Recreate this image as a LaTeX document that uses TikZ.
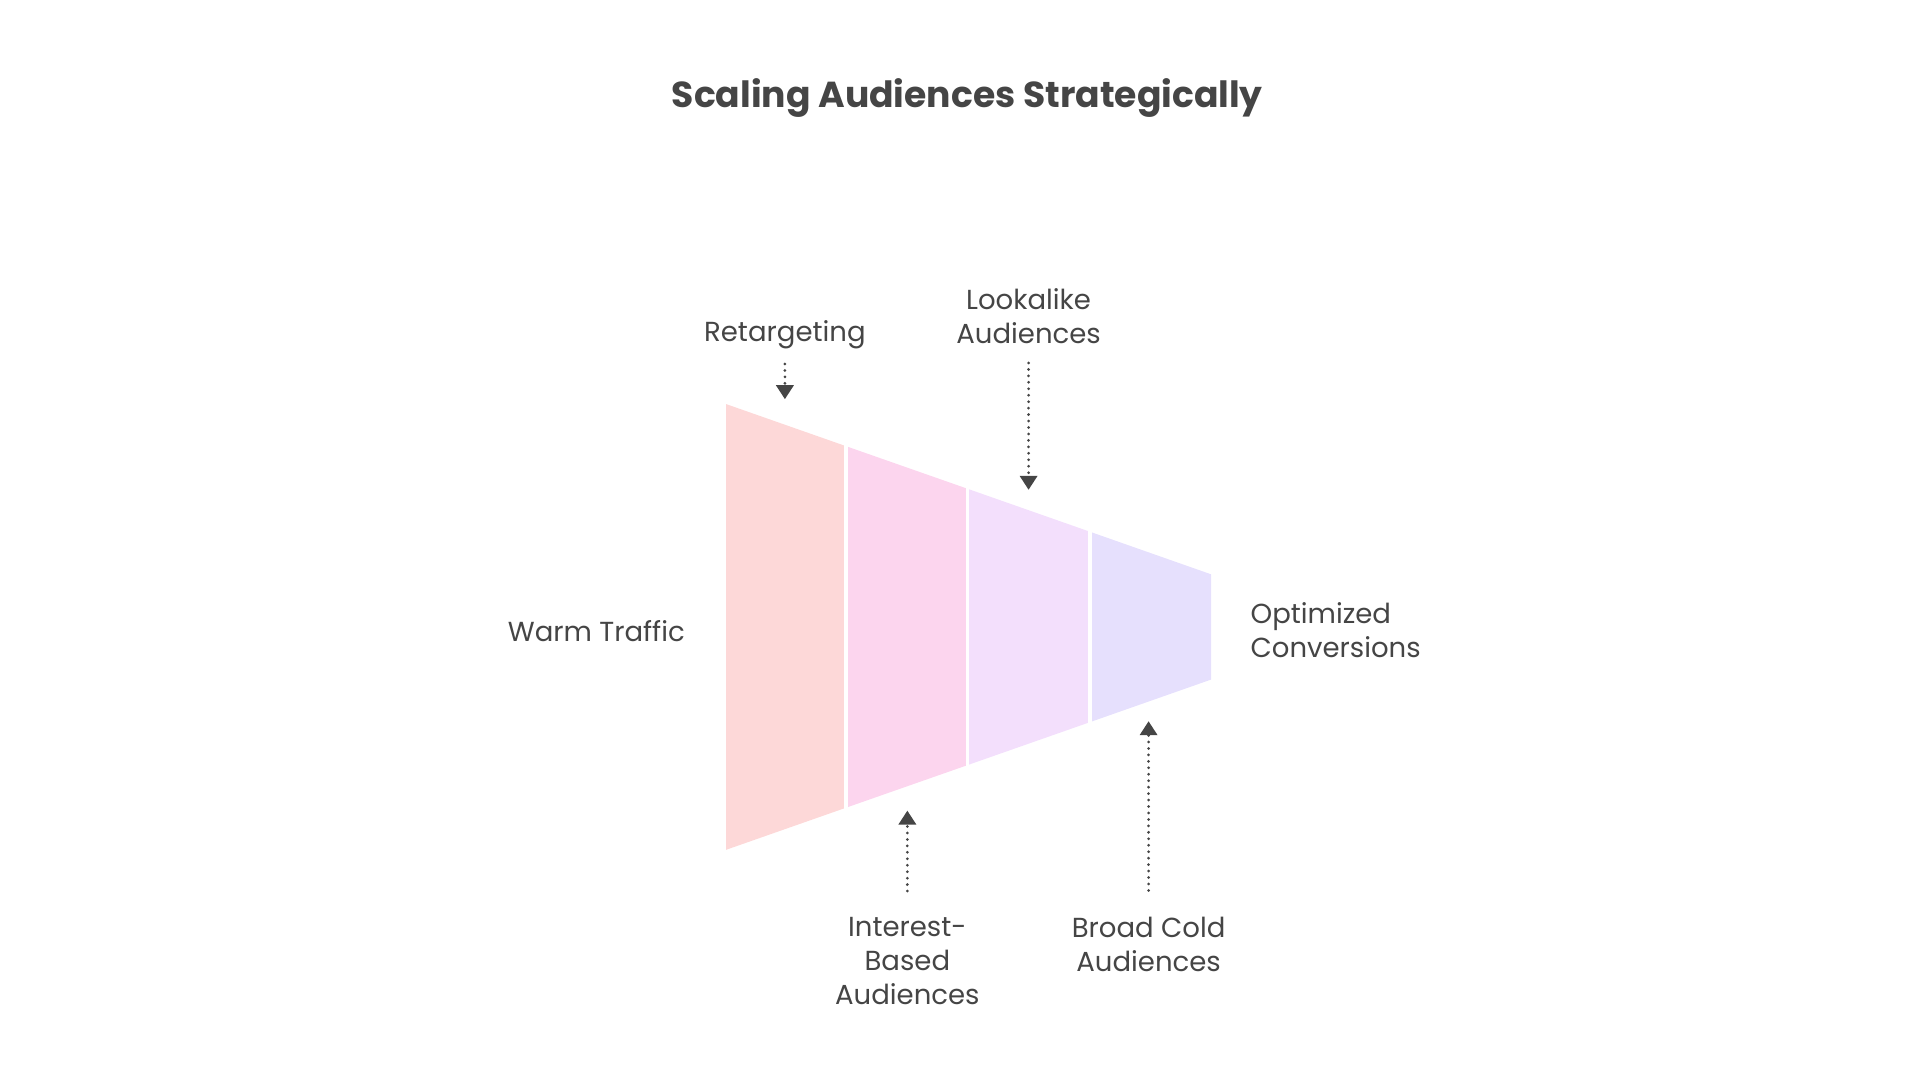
\documentclass[tikz,border=0pt]{standalone}
\usepackage{fontspec}
\setmainfont{Poppins}
\usetikzlibrary{arrows.meta}

\definecolor{ink}{HTML}{454545}
\definecolor{retarget}{HTML}{FDD8D8}
\definecolor{interest}{HTML}{FCD5EE}
\definecolor{lookalike}{HTML}{F3DFFC}
\definecolor{broad}{HTML}{E6E0FD}

\tikzstyle{note} = [text=ink, inner sep=0pt, align=center, font=\fontsize{12.8pt}{15.9pt}\selectfont]
\tikzstyle{arrow} = [draw=ink, line width=1.4pt, line cap=round, dash pattern=on 0pt off 3pt, -{Triangle[width=8pt,length=6.5pt]}]
\tikzstyle{divider} = [white, line width=1.7pt]

\begin{document}
\begin{tikzpicture}[x=0.02cm, y=-0.02cm]
  \useasboundingbox (0,0) rectangle (1568,882);

  \node (Title) [text=ink, font=\fontsize{16.8pt}{20pt}\selectfont\bfseries] at (790,80) {Scaling Audiences Strategically};

  % funnel
  \fill [retarget] (593,330) -- (691,364.4) -- (691,659.6) -- (593,694) -- cycle;
  \fill [interest] (691,364.4) -- (790,399.1) -- (790,624.9) -- (691,659.6) -- cycle;
  \fill [lookalike] (790,399.1) -- (890,434.2) -- (890,589.8) -- (790,624.9) -- cycle;
  \fill [broad] (890,434.2) -- (989,469) -- (989,555) -- (890,589.8) -- cycle;
  \draw [divider] (691,362) -- (691,662);
  \draw [divider] (790,397) -- (790,627);
  \draw [divider] (890,432) -- (890,592);

  \node (Warm Traffic) [note] at (487,515) {Warm Traffic};
  \node (Optimized Conversions) [note, align=left, anchor=west] at (1021,514.5) {Optimized\\Conversions};
  \node (Retargeting) [note] at (641,273) {Retargeting};
  \node (Lookalike) [note] at (840,258.5) {Lookalike\\Audiences};
  \node (Interest Based) [note] at (741,785) {Interest-\\Based\\Audiences};
  \node (Broad Cold) [note] at (938,771) {Broad Cold\\Audiences};

  \coordinate (Retargeting Tip) at (641,326);
  \coordinate (Lookalike Tip) at (840,400);
  \coordinate (Interest Tip) at (741,662);
  \coordinate (Broad Cold Tip) at (938,589);

  \draw [arrow, shorten <=7pt] (Retargeting) -- (Retargeting Tip);
  \draw [arrow, shorten <=8.5pt] (Lookalike) -- (Lookalike Tip);
  \draw [arrow, shorten <=12pt] (Interest Based) -- (Interest Tip);
  \draw [arrow, shorten <=12pt] (Broad Cold) -- (Broad Cold Tip);
\end{tikzpicture}
\end{document}
